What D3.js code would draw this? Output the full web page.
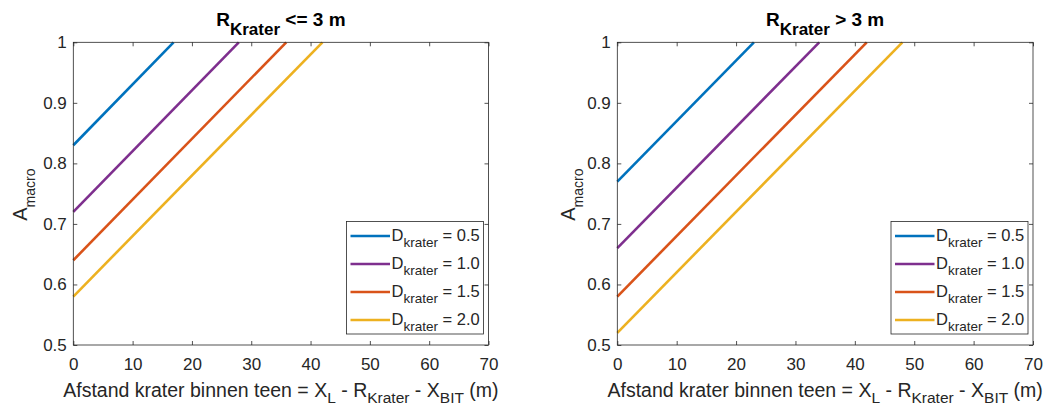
<!DOCTYPE html>
<html><head><meta charset="utf-8">
<script src="https://cdn.jsdelivr.net/npm/d3@7"></script>
<style>body{margin:0;background:#fff;} text{font-family:"Liberation Sans",Arial,sans-serif;fill:#262626;}</style>
</head><body>
<svg id="c" width="1059" height="409"></svg>
<script>
const seriesNames = ["0.5", "1.0", "1.5", "2.0"];
const colors = ["#0072BD", "#7E2F8E", "#D95319", "#EDB120"];
const panelTitles = ["<= 3 m", "> 3 m"];
// left panel (R_Krater <= 3 m): line start at x=0 and end at A=1
const leftStartA = [0.83, 0.72, 0.64, 0.58];
const leftEndX = [16.9, 27.9, 35.9, 42.0];
// right panel (R_Krater > 3 m)
const rightStartA = [0.77, 0.66, 0.58, 0.52];
const rightEndX = [23.0, 34.0, 42.0, 48.0];
const xTicks = [0, 10, 20, 30, 40, 50, 60, 70];
const yTicks = [0.5, 0.6, 0.7, 0.8, 0.9, 1];

const svg = d3.select("#c");
const panels = [
  {left: 73.3, right: 488.5, start: leftStartA, endX: leftEndX, title: panelTitles[0], ylOff: 46.6},
  {left: 617.3, right: 1033, start: rightStartA, endX: rightEndX, title: panelTitles[1], ylOff: 42.3}
];
const plotTop = 42.3, plotBottom = 345;

panels.forEach(p => {
  const x = d3.scaleLinear().domain([0, 70]).range([p.left, p.right]);
  const y = d3.scaleLinear().domain([0.5, 1]).range([plotBottom, plotTop]);
  const g = svg.append("g");
  const line = d3.line().x(d => x(d[0])).y(d => y(d[1]));
  p.start.forEach((a0, i) => {
    g.append("path").datum([[0, a0], [p.endX[i], 1]])
      .attr("d", line).attr("fill", "none").attr("stroke", colors[i]).attr("stroke-width", 2.6);
  });
  g.append("rect").attr("x", x(0)).attr("y", y(1)).attr("width", x(70) - x(0)).attr("height", y(0.5) - y(1))
    .attr("fill", "none").attr("stroke", "#262626").attr("stroke-width", 0.8);
  const ax = g.append("g").attr("transform", `translate(0,${plotBottom})`)
    .call(d3.axisBottom(x).tickValues(xTicks).tickSize(-4).tickPadding(12.5).tickFormat(d3.format("d")));
  const axt = g.append("g").attr("transform", `translate(0,${plotTop})`)
    .call(d3.axisTop(x).tickValues(xTicks).tickSize(-4).tickFormat(""));
  const ay = g.append("g").attr("transform", `translate(${p.left},0)`)
    .call(d3.axisLeft(y).tickValues(yTicks).tickSize(-4).tickPadding(6.5).tickFormat(d => d === 1 ? "1" : d3.format(".1f")(d)));
  const ayr = g.append("g").attr("transform", `translate(${p.right},0)`)
    .call(d3.axisRight(y).tickValues(yTicks).tickSize(-4).tickFormat(""));
  [ax, axt, ay, ayr].forEach(a => {
    a.select(".domain").remove();
    a.selectAll("line").attr("stroke", "#262626").attr("stroke-width", 0.8);
    a.selectAll("text").style("font-size", "17px").attr("fill", "#262626").style("font-family", "'Liberation Sans',Arial,sans-serif");
  });
  const cx = (p.left + p.right) / 2;
  const t = g.append("text").attr("x", cx).attr("y", 26).attr("text-anchor", "middle")
    .style("font-size", "19px").style("font-weight", "bold").style("fill", "#000");
  t.append("tspan").text("R");
  t.append("tspan").text("Krater").attr("dy", 9).style("font-size", "17px");
  t.append("tspan").text(" " + p.title).attr("dy", -9);
  const xl = g.append("text").attr("x", cx).attr("y", 397).attr("text-anchor", "middle").style("font-size", "19.5px");
  xl.append("tspan").text("Afstand krater binnen teen = X");
  xl.append("tspan").text("L").attr("dy", 6).style("font-size", "15.5px");
  xl.append("tspan").text(" - R").attr("dy", -6);
  xl.append("tspan").text("Krater").attr("dy", 6).style("font-size", "15.5px");
  xl.append("tspan").text(" - X").attr("dy", -6);
  xl.append("tspan").text("BIT").attr("dy", 6).style("font-size", "15.5px");
  xl.append("tspan").text(" (m)").attr("dy", -6);
  const yl = g.append("text").attr("transform", `translate(${p.left - p.ylOff},${(plotTop + plotBottom) / 2 + 1}) rotate(-90)`)
    .attr("text-anchor", "middle").style("font-size", "20px");
  yl.append("tspan").text("A");
  yl.append("tspan").text("macro").attr("dy", 8).style("font-size", "14px");
  const lx = p.right - 142, ly = 221.5;
  const lg = g.append("g");
  lg.append("rect").attr("x", lx).attr("y", ly).attr("width", 137).attr("height", 112.5)
    .attr("fill", "#fff").attr("stroke", "#262626").attr("stroke-width", 0.8);
  seriesNames.forEach((s, i) => {
    const yy = ly + 14.5 + i * 28;
    lg.append("line").attr("x1", lx + 4).attr("x2", lx + 43.5).attr("y1", yy).attr("y2", yy)
      .attr("stroke", colors[i]).attr("stroke-width", 2.6);
    const tt = lg.append("text").attr("x", lx + 45).attr("y", yy + 5).style("font-size", "16.5px");
    tt.append("tspan").text("D");
    tt.append("tspan").text("krater").attr("dy", 6).style("font-size", "13.5px");
    tt.append("tspan").text(" = " + s).attr("dy", -6);
  });
});
</script>
</body></html>
